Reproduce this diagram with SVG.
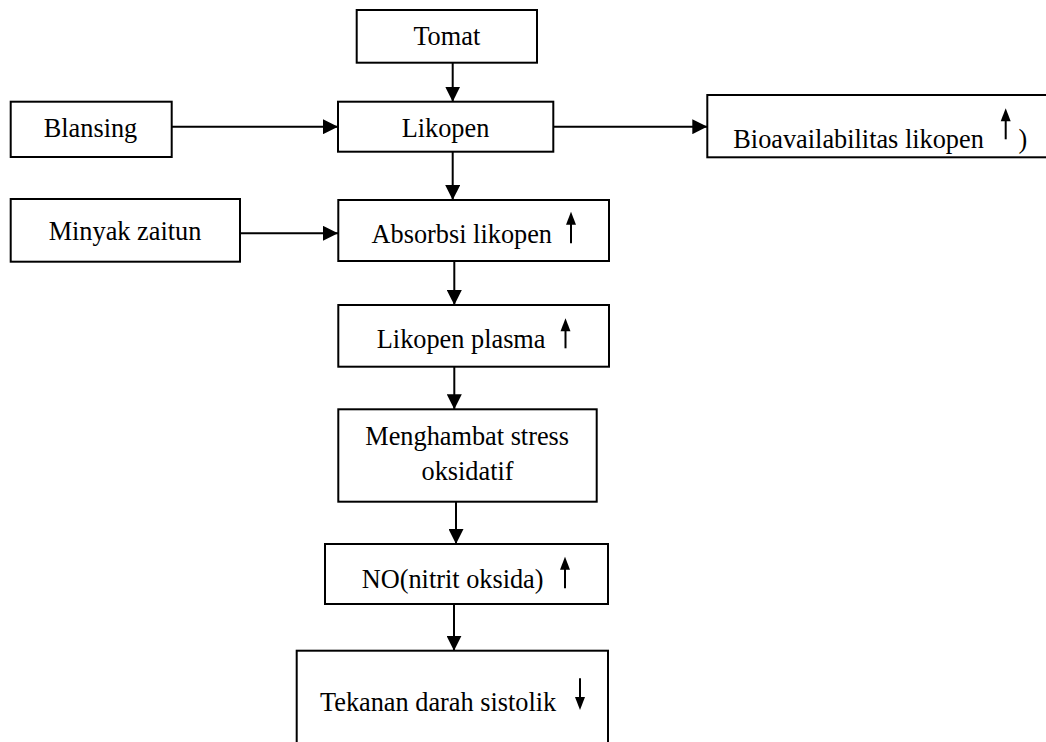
<svg xmlns="http://www.w3.org/2000/svg" width="1046" height="742" viewBox="0 0 1046 742">
<style>
.box{fill:#fff;stroke:#000;stroke-width:2}
.t{font-family:"Liberation Serif","Times New Roman",serif;font-size:26.3px;fill:#000}
.c{text-anchor:middle}
.e{text-anchor:end}
.conn{stroke:#000;stroke-width:2;fill:none}
.sym line{stroke:#000;stroke-width:2}
.sym polygon{fill:#000}
</style>
<defs>
<marker id="ah" markerUnits="userSpaceOnUse" markerWidth="15" markerHeight="15" refX="15" refY="7.5" orient="auto">
<path d="M0,0 L15,7.5 L0,15 z" fill="#000"/>
</marker>
</defs>
<rect width="1046" height="742" fill="#fff"/>
<g id="connectors">
<line class="conn" x1="452.7" y1="62.7" x2="452.7" y2="101.7" marker-end="url(#ah)"/>
<line class="conn" x1="452.7" y1="151.7" x2="452.7" y2="200" marker-end="url(#ah)"/>
<line class="conn" x1="454.3" y1="261" x2="454.3" y2="305" marker-end="url(#ah)"/>
<line class="conn" x1="454.3" y1="366.7" x2="454.3" y2="409.3" marker-end="url(#ah)"/>
<line class="conn" x1="456" y1="501.7" x2="456" y2="544" marker-end="url(#ah)"/>
<line class="conn" x1="454" y1="604" x2="454" y2="650.7" marker-end="url(#ah)"/>
<line class="conn" x1="171.7" y1="126.7" x2="338" y2="126.7" marker-end="url(#ah)"/>
<line class="conn" x1="240" y1="233.3" x2="338" y2="233.3" marker-end="url(#ah)"/>
<line class="conn" x1="553.3" y1="126.7" x2="707.3" y2="126.7" marker-end="url(#ah)"/>
</g>
<g id="tomat">
<rect class="box" x="356.7" y="10" width="180.3" height="52.7"/>
<text class="t c" x="446.8" y="45">Tomat</text>
</g>
<g id="likopen">
<rect class="box" x="338" y="101.7" width="215.3" height="50"/>
<text class="t c" x="445.5" y="136.7">Likopen</text>
</g>
<g id="blansing">
<rect class="box" x="10.7" y="101.7" width="161" height="55.3"/>
<text class="t c" x="90.5" y="137.3">Blansing</text>
</g>
<g id="minyak">
<rect class="box" x="10.7" y="199" width="229.3" height="62.7"/>
<text class="t c" x="125" y="240">Minyak zaitun</text>
</g>
<g id="bioavailabilitas">
<rect class="box" x="707.3" y="95" width="345" height="62.3"/>
<text class="t" x="733.3" y="148.3">Bioavailabilitas likopen</text>
<g class="sym"><line x1="1005.7" y1="118" x2="1005.7" y2="139.3"/><polygon points="1005.7,108.3 1010.7,121.3 1000.7,121.3"/></g>
<text class="t" x="1018.5" y="148.3">)</text>
</g>
<g id="absorbsi">
<rect class="box" x="338.3" y="200" width="270.7" height="61"/>
<text class="t e" x="552" y="242.5">Absorbsi likopen</text>
<g class="sym"><line x1="571" y1="221" x2="571" y2="243.3"/><polygon points="571,211.7 576,224.7 566,224.7"/></g>
</g>
<g id="plasma">
<rect class="box" x="338.3" y="305" width="270.7" height="61.7"/>
<text class="t e" x="545.5" y="348.3">Likopen plasma</text>
<g class="sym"><line x1="565.5" y1="327" x2="565.5" y2="348.3"/><polygon points="565.5,318.3 570.5,331.3 560.5,331.3"/></g>
</g>
<g id="menghambat">
<rect class="box" x="338.3" y="409.3" width="258.4" height="92.4"/>
<text class="t c" x="467.2" y="445">Menghambat stress</text>
<text class="t c" x="467.5" y="480">oksidatif</text>
</g>
<g id="no">
<rect class="box" x="325" y="544" width="283" height="60"/>
<text class="t" x="361.7" y="588.3">NO(nitrit oksida)</text>
<g class="sym"><line x1="565" y1="566" x2="565" y2="588.3"/><polygon points="565,556.7 570,569.7 560,569.7"/></g>
</g>
<g id="tekanan">
<rect class="box" x="296.7" y="650.7" width="311.3" height="120"/>
<text class="t" x="320" y="710.7">Tekanan darah sistolik</text>
<g class="sym"><line x1="580" y1="678.3" x2="580" y2="700"/><polygon points="580,710 585,697 575,697"/></g>
</g>
</svg>
